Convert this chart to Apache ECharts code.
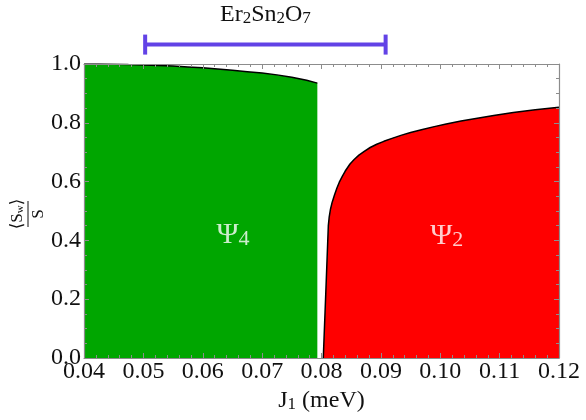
<!DOCTYPE html>
<html>
<head>
<meta charset="utf-8">
<script src="https://cdn.jsdelivr.net/npm/echarts@6/dist/echarts.min.js"></script>
<style>
  html, body { margin: 0; padding: 0; background: #fff; }
  #chart { width: 586px; height: 420px; }
</style>
</head>
<body>
<div id="chart"></div>
<script>
// Phase boundaries: ordered moment fraction <S_w>/S versus J1 (meV)
const psi4J   = [0.0400, 0.0425, 0.0450, 0.0475, 0.0500, 0.0525, 0.0550, 0.0575, 0.0600, 0.0625, 0.0650, 0.0675, 0.0700, 0.0725, 0.0750, 0.0775, 0.0793];
const psi4Val = [1.000, 1.000, 0.9995, 0.998, 0.997, 0.995, 0.993, 0.990, 0.987, 0.983, 0.979, 0.974, 0.969, 0.963, 0.955, 0.945, 0.935];

const psi2J   = [0.0803, 0.0807, 0.08115, 0.0813, 0.0815, 0.0818, 0.0822, 0.0826, 0.0830, 0.0835, 0.0840, 0.0848, 0.0855, 0.0863, 0.0872, 0.0882, 0.0893, 0.0905, 0.0920, 0.0935, 0.0950, 0.0970, 0.0990, 0.1010, 0.1035, 0.1060, 0.1090, 0.1123, 0.1160, 0.1200];
const psi2Val = [0.000, 0.210, 0.450, 0.480, 0.505, 0.530, 0.555, 0.578, 0.598, 0.618, 0.636, 0.660, 0.675, 0.690, 0.703, 0.716, 0.727, 0.737, 0.748, 0.758, 0.767, 0.777, 0.787, 0.796, 0.806, 0.815, 0.825, 0.835, 0.844, 0.853];

// Er2Sn2O7 estimated J1 range, drawn above the plot
const rangeLow = 0.0503, rangeHigh = 0.0908, rangeLevel = 1.066;

// Region label positions
const psi4Label = [0.0651, 0.418];
const psi2Label = [0.1011, 0.415];

const xTicks = [0.04, 0.05, 0.06, 0.07, 0.08, 0.09, 0.10, 0.11, 0.12];

const SERIF = '"Liberation Serif", "DejaVu Serif", serif';
const GREEN = '#00a600';
const RED = '#ff0000';
const PURPLE = '#6242e6';
const FRAME = '#8c8c8c';

const chart = echarts.init(document.getElementById('chart'));

const pairs = (xs, ys) => xs.map((x, i) => [x, ys[i]]);

const axisLine = { show: true, onZero: false, lineStyle: { color: FRAME, width: 1.2 } };
const axisTick = { show: true, inside: true, length: 5, lineStyle: { color: FRAME } };
const xMinor = { show: true, splitNumber: 5, length: 3, lineStyle: { color: FRAME } };
const yMinor = { show: true, splitNumber: 4, length: 3, lineStyle: { color: FRAME } };

const subRich = {
  s: { fontFamily: SERIF, fontSize: 17, lineHeight: 12, verticalAlign: 'bottom', color: '#111' }
};

chart.setOption({
  animation: false,
  backgroundColor: '#fff',
  grid: { left: 84, right: 27, top: 64, bottom: 62 },
  xAxis: [
    {
      type: 'value', min: 0.04, max: 0.12, interval: 0.01, position: 'bottom', z: 10,
      axisLine, axisTick, minorTick: xMinor, splitLine: { show: false },
      axisLabel: {
        margin: 2, fontFamily: SERIF, fontSize: 24, lineHeight: 24, color: '#111',
        formatter: v => {
          const t = xTicks.find(x => Math.abs(x - v) < 1e-9);
          return t === undefined ? '' : t.toFixed(2);
        }
      },
      name: 'J{s|1} (meV)', nameLocation: 'middle', nameGap: 31,
      nameTextStyle: { fontFamily: SERIF, fontSize: 24, color: '#111', rich: subRich }
    },
    {
      type: 'value', min: 0.04, max: 0.12, interval: 0.01, position: 'top', z: 10,
      axisLine, axisTick, minorTick: xMinor, splitLine: { show: false },
      axisLabel: { show: false }
    }
  ],
  yAxis: [
    {
      type: 'value', min: 0, max: 1, interval: 0.2, position: 'left', z: 10,
      axisLine, axisTick, minorTick: yMinor, splitLine: { show: false },
      axisLabel: {
        margin: 3, fontFamily: SERIF, fontSize: 24, color: '#111',
        formatter: v => v.toFixed(1)
      }
    },
    {
      type: 'value', min: 0, max: 1, interval: 0.2, position: 'right', z: 10,
      axisLine, axisTick, minorTick: yMinor, splitLine: { show: false },
      axisLabel: { show: false }
    }
  ],
  graphic: [
    {
      // y-axis title: <S_w> over S, rotated
      type: 'group', x: 28, y: 214, rotation: Math.PI / 2,
      children: [
        {
          type: 'text', x: 0, y: -2,
          style: {
            text: '⟨S{w|w}⟩', fontFamily: SERIF, fontSize: 17, fill: '#111',
            align: 'center', verticalAlign: 'bottom',
            rich: { w: { fontFamily: SERIF, fontSize: 11, lineHeight: 8, verticalAlign: 'bottom', color: '#111' } }
          }
        },
        { type: 'line', shape: { x1: -13, y1: 0, x2: 13, y2: 0 }, style: { stroke: '#111', lineWidth: 1 } },
        {
          type: 'text', x: 0, y: 2,
          style: { text: 'S', fontFamily: SERIF, fontSize: 17, fill: '#111', align: 'center', verticalAlign: 'top' }
        }
      ]
    }
  ],
  series: [
    {
      type: 'line', name: 'Psi4', data: pairs(psi4J, psi4Val),
      showSymbol: false, smooth: false,
      lineStyle: { color: '#000', width: 1.5 },
      areaStyle: { color: GREEN, opacity: 1 },
      z: 2
    },
    {
      type: 'line', name: 'Psi2', data: pairs(psi2J, psi2Val),
      showSymbol: false, smooth: false,
      lineStyle: { color: '#000', width: 1.5 },
      areaStyle: { color: RED, opacity: 1 },
      z: 2
    },
    {
      type: 'scatter', data: [psi4Label, psi2Label], symbolSize: 1,
      itemStyle: { color: 'rgba(0,0,0,0)' }, z: 5, silent: true,
      label: {
        show: true, position: 'inside', color: '#fff',
        fontFamily: SERIF, fontSize: 30,
        formatter: p => p.dataIndex === 0 ? 'Ψ{n|4}' : 'Ψ{n|2}',
        rich: { n: { fontFamily: SERIF, fontSize: 22, lineHeight: 18, verticalAlign: 'bottom', color: '#fff' } }
      }
    },
    {
      type: 'custom', clip: false, z: 6,
      data: [[rangeLow, rangeHigh, rangeLevel]],
      encode: { x: [0, 1], y: 2 },
      renderItem: (params, api) => {
        const a = api.coord([api.value(0), api.value(2)]);
        const b = api.coord([api.value(1), api.value(2)]);
        const cap = 10;
        const st = { stroke: PURPLE, lineWidth: 4 };
        return {
          type: 'group',
          children: [
            { type: 'line', shape: { x1: a[0], y1: a[1], x2: b[0], y2: b[1] }, style: st },
            { type: 'line', shape: { x1: a[0], y1: a[1] - cap, x2: a[0], y2: a[1] + cap }, style: st },
            { type: 'line', shape: { x1: b[0], y1: b[1] - cap, x2: b[0], y2: b[1] + cap }, style: st },
            {
              type: 'text', x: (a[0] + b[0]) / 2, y: a[1] - 30,
              style: {
                text: 'Er{s|2}Sn{s|2}O{s|7}', fontFamily: SERIF, fontSize: 24, fill: '#111',
                align: 'center', verticalAlign: 'middle', rich: subRich
              }
            }
          ]
        };
      }
    }
  ]
});
</script>
</body>
</html>
